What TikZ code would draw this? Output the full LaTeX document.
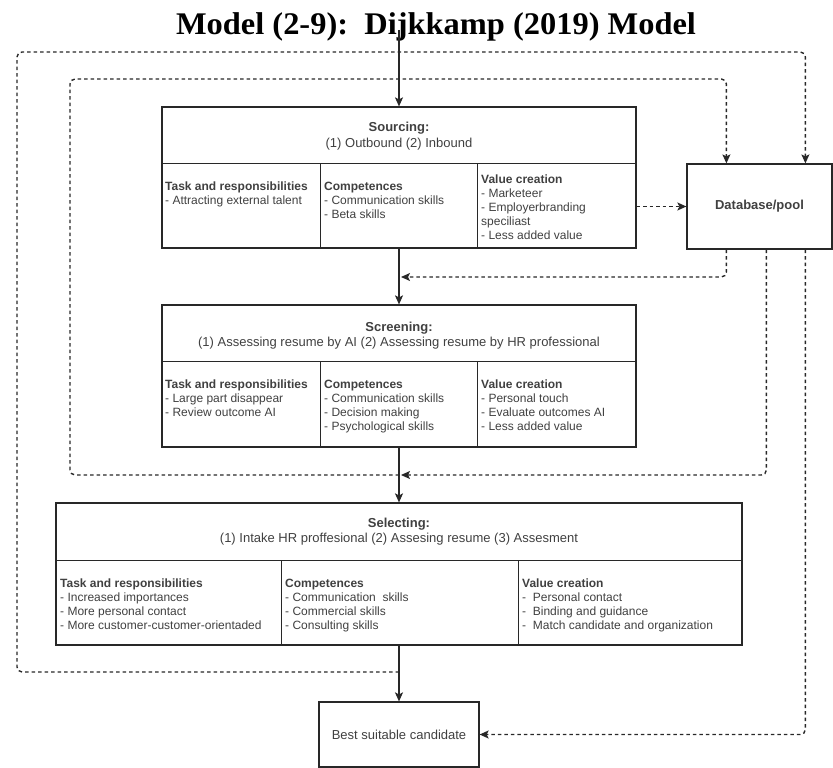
\documentclass[tikz,border=0pt]{standalone}
\usepackage{fontspec}
\setmainfont{Liberation Sans}
\newfontfamily\titlefont[FakeStretch=1.03]{Liberation Serif}
\usetikzlibrary{arrows.meta, positioning, calc}
\definecolor{linegray}{RGB}{40,40,40}
\definecolor{textgray}{RGB}{64,64,64}
\newcommand{\cellfont}{\fontsize{12}{14}\selectfont}
\newcommand{\headfont}{\fontsize{13}{15.5}\selectfont}

\begin{document}
\begin{tikzpicture}[
  x=1pt, y=-1pt,
  stage/.style={rectangle, draw=linegray, line width=1.2pt, inner sep=0pt},
  head/.style={align=center, text=textgray, font=\headfont, inner sep=0pt},
  cell/.style={anchor=north west, align=left, text=textgray, font=\cellfont, inner sep=0pt},
  divider/.style={draw=linegray, line width=1.2pt},
  arr/.style={-{Stealth[length=9pt, width=8pt, inset=2pt]}, line width=1.2pt, linegray},
  darr/.style={-{Stealth[length=9pt, width=8pt, inset=2pt]}, line width=1.4pt, linegray,
               dash pattern=on 3.5pt off 3pt, rounded corners=5pt},
]
\useasboundingbox (0,0) rectangle (833,768);

% Title
\node[font=\titlefont\bfseries\fontsize{31.5}{34}\selectfont, anchor=base] (title) at (436,35)
  {Model (2-9):\ \ Dijkkamp (2019) Model};

% Stages
\node[stage, minimum width=474pt, minimum height=141pt] (sourcing) at (399,177.5) {};
\node[stage, minimum width=474pt, minimum height=142pt] (screening) at (399,376) {};
\node[stage, minimum width=686pt, minimum height=142pt] (selecting) at (399,574) {};
\node[stage, minimum width=160pt, minimum height=65pt, font=\headfont, text=textgray] (best) at (399,734.5)
  {Best suitable candidate};
\node[stage, minimum width=145pt, minimum height=85pt, font=\headfont\bfseries, text=textgray] (db) at (759.5,206.5)
  {Database/pool};

% Cell lines
\draw[divider] ([yshift=-57pt]sourcing.north west) -- ([yshift=-57pt]sourcing.north east);
\draw[divider] ([yshift=-57pt]screening.north west) -- ([yshift=-57pt]screening.north east);
\draw[divider] ([yshift=-58pt]selecting.north west) -- ([yshift=-58pt]selecting.north east);
\foreach \s in {sourcing, screening} {
  \draw[divider] ([xshift=159pt, yshift=-57pt]\s.north west) -- ([xshift=159pt]\s.south west);
  \draw[divider] ([xshift=316pt, yshift=-57pt]\s.north west) -- ([xshift=316pt]\s.south west);
}
\draw[divider] ([xshift=226pt, yshift=-58pt]selecting.north west) -- ([xshift=226pt]selecting.south west);
\draw[divider] ([xshift=463pt, yshift=-58pt]selecting.north west) -- ([xshift=463pt]selecting.south west);

% Sourcing
\node[head] (sourcingHead) at (399,136) {\textbf{Sourcing:}\\(1) Outbound (2) Inbound};
\node[cell] (sourcingTask) at (165,181.5) {\textbf{Task and responsibilities}\\- Attracting external talent};
\node[cell] (sourcingComp) at (324,181.5) {\textbf{Competences}\\- Communication skills\\- Beta skills};
\node[cell] (sourcingValue) at (481,174.5) {\textbf{Value creation}\\- Marketeer\\- Employerbranding\\speciliast\\- Less added value};

% Screening
\node[head] (screeningHead) at (399,335.5) {\textbf{Screening:}\\(1) Assessing resume by AI (2) Assessing resume by HR professional};
\node[cell] (screeningTask) at (165,379.5) {\textbf{Task and responsibilities}\\- Large part disappear\\- Review outcome AI};
\node[cell] (screeningComp) at (324,379.5) {\textbf{Competences}\\- Communication skills\\- Decision making\\- Psychological skills};
\node[cell] (screeningValue) at (481,379.5) {\textbf{Value creation}\\- Personal touch\\- Evaluate outcomes AI\\- Less added value};

% Selecting
\node[head] (selectingHead) at (399,531.5) {\textbf{Selecting:}\\(1) Intake HR proffesional (2) Assesing resume (3) Assesment};
\node[cell] (selectingTask) at (60,578.5) {\textbf{Task and responsibilities}\\- Increased importances\\- More personal contact\\- More customer-customer-orientaded};
\node[cell] (selectingComp) at (285,578.5) {\textbf{Competences}\\- Communication\ \ skills\\- Commercial skills\\- Consulting skills};
\node[cell] (selectingValue) at (522,578.5) {\textbf{Value creation}\\- \ Personal contact\\- \ Binding and guidance\\- \ Match candidate and organization};

% Main flow
\coordinate (entry) at (399,30);
\draw[arr] (entry) -- (sourcing);
\draw[arr] (sourcing) -- (screening);
\draw[arr] (screening) -- (selecting);
\draw[arr] (selecting) -- (best);

% Pool flows
\coordinate (joinA) at (401,277);
\coordinate (joinB) at (401,475);
\coordinate (footB) at (399,475);
\coordinate (footC) at (399,672);
\draw[darr] (sourcing.east |- db.west) -- (db.west);
\draw[darr] ([xshift=40pt]db.south west) |- (joinA);
\draw[darr] ([xshift=80pt]db.south west) |- (joinB);
\draw[darr] ([xshift=119pt]db.south west) |- (best.east);
\draw[darr] (footB) -| (70,79) -| ([xshift=40pt]db.north west);
\draw[darr] (footC) -| (17,52) -| ([xshift=119pt]db.north west);

\end{tikzpicture}
\end{document}
